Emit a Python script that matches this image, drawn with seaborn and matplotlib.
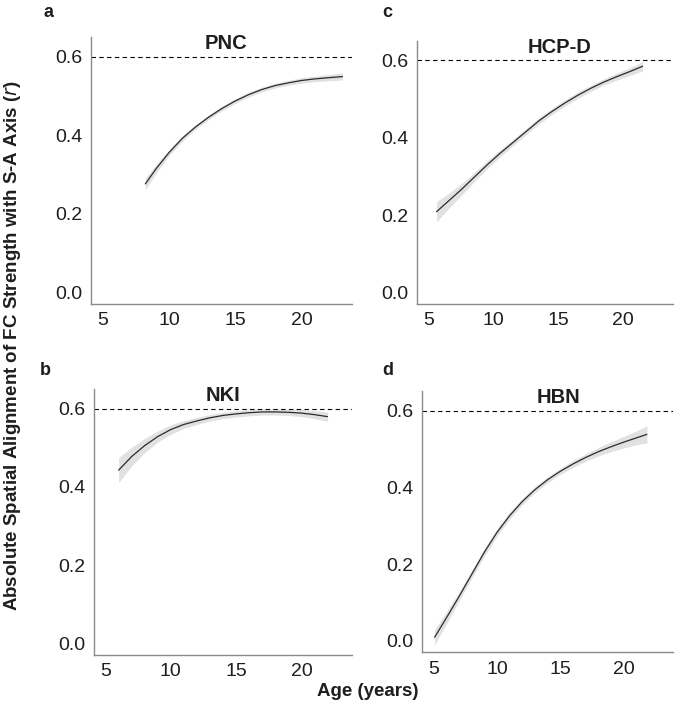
import numpy as np
import pandas as pd
import matplotlib
matplotlib.use("Agg")
import matplotlib.pyplot as plt
import seaborn as sns

sns.set_style("white")
plt.rcParams['font.family'] = ['Liberation Sans', 'DejaVu Sans']

# Fitted developmental curves (age in years, absolute alignment r, CI half-width)
pnc_age = [8.2, 9, 10, 11, 12, 13, 14, 15, 16, 17, 18, 19, 20, 21, 22, 23.1]
pnc_fit = [0.276, 0.314, 0.356, 0.392, 0.421, 0.446, 0.468, 0.487, 0.503, 0.516, 0.526, 0.533, 0.539, 0.543, 0.546, 0.549]
pnc_ci = [0.015, 0.011, 0.008, 0.007, 0.006, 0.006, 0.006, 0.006, 0.006, 0.006, 0.006, 0.006, 0.007, 0.007, 0.008, 0.009]

hcpd_age = [5.6, 6.5, 7.5, 8.5, 9.5, 10.5, 11.5, 12.5, 13.5, 14.5, 15.5, 16.5, 17.5, 18.5, 19.5, 20.5, 21.5]
hcpd_fit = [0.209, 0.236, 0.266, 0.298, 0.330, 0.360, 0.388, 0.416, 0.444, 0.468, 0.490, 0.510, 0.528, 0.544, 0.558, 0.571, 0.585]
hcpd_ci = [0.026, 0.020, 0.015, 0.012, 0.010, 0.009, 0.008, 0.008, 0.008, 0.008, 0.008, 0.008, 0.008, 0.008, 0.009, 0.010, 0.012]

nki_age = [6.0, 7, 8, 9, 10, 11, 12, 13, 14, 15, 16, 17, 18, 19, 20, 21, 22]
nki_fit = [0.443, 0.478, 0.506, 0.529, 0.547, 0.560, 0.569, 0.577, 0.583, 0.587, 0.590, 0.592, 0.592, 0.591, 0.589, 0.585, 0.580]
nki_ci = [0.032, 0.024, 0.018, 0.014, 0.012, 0.010, 0.009, 0.008, 0.008, 0.008, 0.008, 0.008, 0.008, 0.008, 0.009, 0.010, 0.012]

hbn_age = [5.1, 6, 7, 8, 9, 10, 11, 12, 13, 14, 15, 16, 17, 18, 19, 20, 21, 21.8]
hbn_fit = [0.009, 0.058, 0.114, 0.172, 0.230, 0.282, 0.326, 0.363, 0.394, 0.420, 0.442, 0.461, 0.478, 0.493, 0.506, 0.518, 0.529, 0.538]
hbn_ci = [0.020, 0.016, 0.012, 0.010, 0.010, 0.010, 0.009, 0.008, 0.008, 0.008, 0.008, 0.009, 0.010, 0.011, 0.013, 0.015, 0.018, 0.022]

datasets = ['PNC', 'HCP-D', 'NKI', 'HBN']
panel_letters = ['a', 'c', 'b', 'd']
ages = [pnc_age, hcpd_age, nki_age, hbn_age]
fits = [pnc_fit, hcpd_fit, nki_fit, hbn_fit]
cis = [pnc_ci, hcpd_ci, nki_ci, hbn_ci]

ref_r = 0.6
xticks = [5, 10, 15, 20]
yticks = [0.0, 0.2, 0.4, 0.6]

fig = plt.figure(figsize=(6.75, 7.09), dpi=100)

# axes boxes (fig fraction) and label positions
boxes = [[0.135, 0.571, 0.387, 0.377],
         [0.618, 0.571, 0.379, 0.371],
         [0.139, 0.076, 0.382, 0.375],
         [0.625, 0.080, 0.372, 0.368]]
letter_pos = [(0.064, 0.976), (0.566, 0.976), (0.059, 0.471), (0.566, 0.471)]
title_x = [0.517, 0.555, 0.5, 0.546]

for i, name in enumerate(datasets):
    ax = fig.add_axes(boxes[i])
    df = pd.DataFrame({'age': ages[i], 'fit': fits[i], 'ci': cis[i]})
    ax.fill_between(df['age'], df['fit'] - df['ci'], df['fit'] + df['ci'],
                    color='#dcdcdc', alpha=0.85, linewidth=0)
    sns.lineplot(data=df, x='age', y='fit', ax=ax, color='#2b2b2b', linewidth=0.9)
    ax.axhline(ref_r, color='black', linestyle=(0, (4, 3)), linewidth=0.8)

    ax.set_xlim(4.1, 23.85)
    ax.set_ylim(-0.03, 0.65)
    ax.set_xticks(xticks)
    ax.set_yticks(yticks)
    ax.set_yticklabels([f'{t:.1f}' for t in yticks])
    ax.set_xlabel('')
    ax.set_ylabel('')
    ax.tick_params(axis='both', labelsize=14, length=3.5, width=0.8,
                   color='#7f7f7f', labelcolor='#1e1e1e', pad=2.5)
    for side in ['top', 'right']:
        ax.spines[side].set_visible(False)
    for side in ['left', 'bottom']:
        ax.spines[side].set_color('#8a8a8a')
        ax.spines[side].set_linewidth(1.0)

    ax.text(title_x[i], 0.955, name, transform=ax.transAxes, ha='center',
            va='baseline', fontsize=14.5, fontweight='bold', color='#1e1e1e')
    fig.text(letter_pos[i][0], letter_pos[i][1], panel_letters[i], fontsize=13,
             fontweight='bold', color='#1e1e1e', va='baseline')

fig.text(0.545, 0.024, 'Age (years)', ha='center', va='center',
         fontsize=13.5, fontweight='bold', color='#1e1e1e')
fig.text(0.019, 0.513, r'Absolute Spatial Alignment of FC Strength with S-A Axis ($\mathit{r}$)',
         ha='center', va='center', rotation=90, fontsize=13.5, fontweight='bold',
         color='#1e1e1e')

fig.savefig('out.png', dpi=100)
